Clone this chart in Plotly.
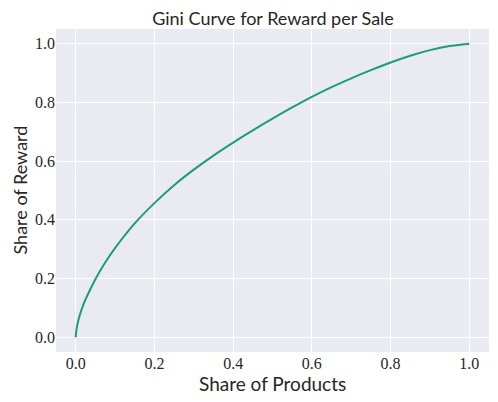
import plotly.graph_objects as go

share_products = [0.0, 0.002, 0.005, 0.01, 0.0175, 0.025, 0.05, 0.075, 0.1, 0.15, 0.2, 0.25, 0.3, 0.35,
                  0.4, 0.45, 0.5, 0.55, 0.6, 0.65, 0.7, 0.75, 0.8, 0.85, 0.9, 0.95, 1.0]
share_reward = [0.0, 0.027, 0.048, 0.074, 0.104, 0.129, 0.198, 0.255, 0.304, 0.388, 0.457, 0.518, 0.571, 0.619,
                0.663, 0.705, 0.745, 0.783, 0.819, 0.852, 0.882, 0.91, 0.936, 0.959, 0.978, 0.992, 1.0]
tick_vals = [0.0, 0.2, 0.4, 0.6, 0.8, 1.0]
tick_text = ["0.0", "0.2", "0.4", "0.6", "0.8", "1.0"]

fig = go.Figure()
fig.add_trace(go.Scatter(x=share_products, y=share_reward, mode="lines",
                         line=dict(color="#1b9e77", width=2, shape="spline", smoothing=0.6),
                         showlegend=False))

sans = "Lato, DejaVu Sans, sans-serif"
serif = "Liberation Serif, DejaVu Serif, serif"
axis_common = dict(range=[-0.05, 1.05], tickvals=tick_vals, ticktext=tick_text, automargin=False,
                   showgrid=True, gridcolor="white", gridwidth=1.3, zeroline=False,
                   showline=False, ticks="", tickfont=dict(family=serif, size=16, color="#262626"))

W, H = 490, 394
ml, mr, mt, mb = 48, 9, 21, 50
pw, ph = W - ml - mr, H - mt - mb

fig.update_layout(
    width=W, height=H,
    margin=dict(l=ml, r=mr, t=mt, b=mb),
    paper_bgcolor="white", plot_bgcolor="#EAEAF2",
    title=dict(text="Gini Curve for Reward per Sale", x=(273 - 8) / W, xanchor="center",
               y=1 - 11 / H, yanchor="middle", yref="container",
               font=dict(family=sans, size=18, color="#262626")),
    xaxis=axis_common,
    yaxis=axis_common,
    annotations=[
        dict(text="Share of Products", xref="paper", yref="paper", x=0.5, y=-(375 - (H - mb)) / ph,
             xanchor="center", yanchor="middle", showarrow=False,
             font=dict(family=sans, size=19, color="#262626")),
        dict(text="Share of Reward", xref="paper", yref="paper", x=(11 - ml) / pw, y=0.5,
             xanchor="center", yanchor="middle", showarrow=False, textangle=-90,
             font=dict(family=sans, size=18, color="#262626")),
    ],
)
fig.write_html("out.html")
